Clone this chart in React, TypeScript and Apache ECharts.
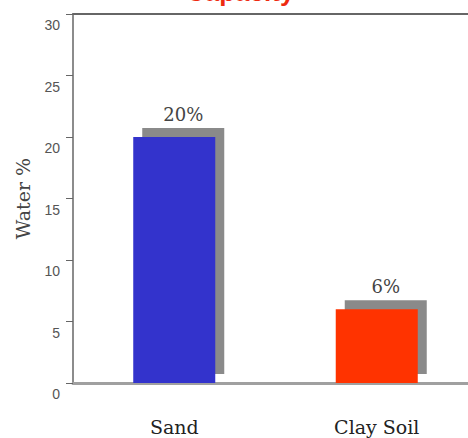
import React, { useEffect, useRef } from "react";
import * as echarts from "echarts";

const categories = ["Sand", "Clay Soil"];
const waterPercent = [20, 6];
const barColors = ["#3333cc", "#ff3300"];
const yTicks = { min: 0, max: 30, interval: 5 };
const titleText = "Capacity";
const yAxisName = "Water %";

export default function App() {
  const ref = useRef<HTMLDivElement>(null);
  useEffect(() => {
    if (!ref.current) return;
    const chart = echarts.init(ref.current, null, { renderer: "svg" });
    const option: any = {
      animation: false,
      backgroundColor: "#ffffff",
      title: {
        text: titleText,
        left: 186,
        top: -21,
        padding: 0,
        textStyle: { color: "#ee2a10", fontSize: 26, fontWeight: "bold", fontFamily: "Liberation Sans" },
      },
      grid: { left: 73, top: 14, bottom: 55, right: 0, containLabel: false },
      xAxis: [
        {
          type: "category",
          data: categories,
          position: "bottom",
          axisLine: { lineStyle: { color: "#a0a0a0", width: 3 } },
          axisTick: { alignWithLabel: true, length: 13, lineStyle: { color: "#222", width: 2 } },
          axisLabel: { margin: 34, fontFamily: "DejaVu Serif", fontSize: 19, color: "#222" },
        },
        {
          type: "category",
          data: categories,
          position: "top",
          axisLine: { lineStyle: { color: "#666", width: 2 } },
          axisTick: { show: false },
          axisLabel: { show: false },
        },
      ],
      yAxis: {
        type: "value",
        min: yTicks.min,
        max: yTicks.max,
        interval: yTicks.interval,
        name: yAxisName,
        nameLocation: "middle",
        nameGap: 41,
        nameRotate: 90,
        nameTextStyle: { fontFamily: "DejaVu Serif", fontSize: 19, color: "#444" },
        axisLine: { show: true, lineStyle: { color: "#666", width: 1.5 } },
        axisTick: { show: true, length: 7, lineStyle: { color: "#666" } },
        axisLabel: {
          margin: 13,
          fontFamily: "Liberation Sans Narrow, Liberation Sans",
          fontSize: 14,
          color: "#555",
          verticalAlign: "top",
          padding: [4, 0, 0, 0],
        },
        splitLine: { show: false },
      },
      series: [
        {
          type: "custom",
          xAxisIndex: 0,
          data: waterPercent.map((v, i) => [i, v]),
          renderItem: (params: any, api: any) => {
            const idx = api.value(0);
            const v = api.value(1);
            const top = api.coord([idx, v]);
            const base = api.coord([idx, 0]);
            const bw = api.size([1, 0])[0] * 0.405;
            const h = base[1] - top[1];
            const x = top[0] - bw / 2;
            const off = 9;
            return {
              type: "group",
              children: [
                {
                  type: "rect",
                  shape: { x: x + off, y: top[1] - off, width: bw, height: h },
                  style: { fill: "#8a8a8a" },
                },
                {
                  type: "rect",
                  shape: { x: x, y: top[1], width: bw, height: h },
                  style: { fill: barColors[params.dataIndex] },
                },
                {
                  type: "text",
                  x: top[0] + off,
                  y: top[1] - off - 14,
                  style: {
                    text: v + "%",
                    textAlign: "center",
                    textVerticalAlign: "middle",
                    fontFamily: "DejaVu Serif",
                    fontSize: 18,
                    fill: "#444",
                  },
                },
              ],
            };
          },
        },
      ],
    };
    chart.setOption(option);
    return () => chart.dispose();
  }, []);
  return (
    <div style={{ position: "absolute", left: 0, top: 0, width: 468, height: 438, overflow: "hidden" }}>
      <div ref={ref} style={{ width: 478, height: 438 }} />
    </div>
  );
}
